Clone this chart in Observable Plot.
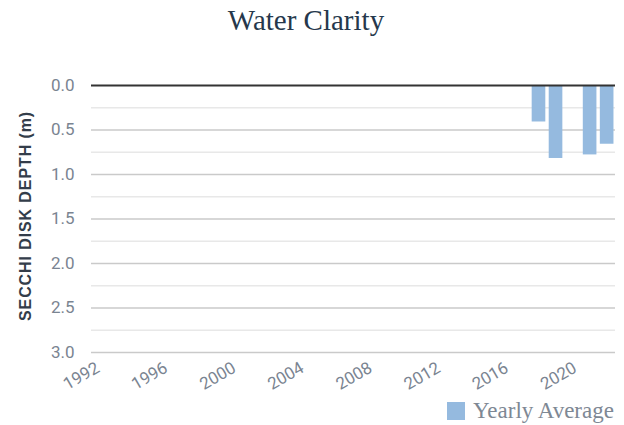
<!DOCTYPE html>
<html>
<head>
<meta charset="utf-8">
<script src="https://cdn.jsdelivr.net/npm/d3@7"></script>
<script src="https://cdn.jsdelivr.net/npm/@observablehq/plot@0.6"></script>
<style>
  html, body { margin: 0; padding: 0; background: #fff; }
  #wrap { position: relative; width: 624px; height: 425px; overflow: hidden; }
  #title { position: absolute; left: 0; top: 4px; width: 612px; text-align: center;
           font-family: "Liberation Serif", serif; font-size: 29px; color: #26384c; }
  #chart { position: absolute; left: 0; top: 50px; }
  #legend { position: absolute; left: 447px; top: 398px; font-family: "Liberation Serif", serif;
            font-size: 23px; color: #7e8894; display: flex; align-items: center; }
  #legend .sw { width: 18px; height: 18px; background: #95badf; margin-right: 8px; }
</style>
</head>
<body>
<div id="wrap">
  <div id="title">Water Clarity</div>
  <div id="chart"></div>
  <div id="legend"><span class="sw"></span><span>Yearly Average</span></div>
</div>
<script>
// Yearly average Secchi disk depth (m)
const years = [2018, 2019, 2021, 2022];
const depth = [0.41, 0.82, 0.78, 0.66];

const xTicks = [1992, 1996, 2000, 2004, 2008, 2012, 2016, 2020];
const yTicks = [0, 0.5, 1.0, 1.5, 2.0, 2.5, 3.0];
const yMinor = [0.25, 0.75, 1.25, 1.75, 2.25, 2.75];

const bars = years.map((y, i) => ({year: y, depth: depth[i]}));
const halfWidth = 0.4; // column half-width in years

const plot = Plot.plot({
  width: 624,
  height: 345,
  marginLeft: 91,
  marginRight: 9,
  marginTop: 35,
  marginBottom: 43,
  style: {fontFamily: "Roboto, 'Liberation Sans', sans-serif", fontSize: "17px", color: "#7a8491", background: "transparent", overflow: "visible"},
  x: {domain: [1991.74, 2022.49], label: null},
  y: {domain: [0, 3], reverse: true, label: null},
  marks: [
    Plot.ruleY(yMinor, {stroke: "#e8e8e8", strokeWidth: 1.5}),
    Plot.ruleY(yTicks.filter(d => d > 0), {stroke: "#cacaca", strokeWidth: 1.5}),
    Plot.rectY(bars, {x1: d => d.year - halfWidth, x2: d => d.year + halfWidth, y1: 0, y2: "depth", fill: "#95badf"}),
    Plot.ruleY([0], {stroke: "#333", strokeWidth: 2}),
    Plot.axisY({ticks: yTicks, tickFormat: d3.format(".1f"), tickSize: 0, tickPadding: 17, label: null}),
    Plot.axisX({ticks: xTicks, tickFormat: d => String(d), tickSize: 0, tickRotate: -30, tickPadding: 12, dx: 2, dy: 2, label: null}),
    Plot.text(["SECCHI DISK DEPTH (m)"], {frameAnchor: "left", textAnchor: "middle", rotate: -90, dx: -66, dy: -3, fontWeight: "bold", fontSize: 16, fill: "#333d4a", fontFamily: "'Liberation Sans', Arial, sans-serif"})
  ]
});
const lbl = plot.querySelector('[aria-label="text"] text');
if (lbl) lbl.style.letterSpacing = "0.9px";
document.getElementById("chart").appendChild(plot);
</script>
</body>
</html>
